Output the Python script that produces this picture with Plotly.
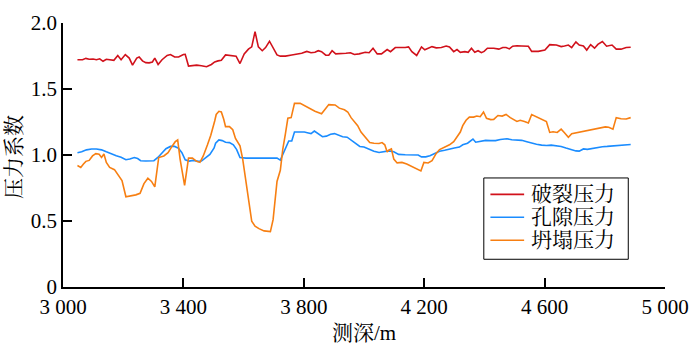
import plotly.graph_objects as go

# Fracture pressure coefficient (破裂压力)
frac_depth = [3048, 3065, 3076, 3087, 3100, 3111, 3122, 3133, 3144, 3155, 3169, 3182, 3193, 3207,
              3220, 3231, 3245, 3253, 3264, 3275, 3286, 3297, 3305, 3316, 3329, 3346, 3357, 3371,
              3384, 3400, 3406, 3417, 3428, 3444, 3460, 3477, 3493, 3504, 3515, 3526, 3540, 3558,
              3575, 3588, 3602, 3616, 3627, 3638, 3649, 3662, 3673, 3686, 3697, 3711, 3722, 3739,
              3760, 3777, 3793, 3810, 3824, 3837, 3848, 3859, 3873, 3883, 3894, 3906, 3924, 3940,
              3955, 3968, 3984, 3990, 4004, 4017, 4030, 4044, 4058, 4077, 4088, 4104, 4120, 4137,
              4148, 4159, 4175, 4191, 4202, 4213, 4226, 4240, 4257, 4273, 4284, 4298, 4309, 4320,
              4335, 4346, 4357, 4368, 4379, 4390, 4399, 4410, 4431, 4448, 4461, 4472, 4483, 4494,
              4508, 4524, 4546, 4557, 4579, 4601, 4617, 4639, 4655, 4666, 4679, 4690, 4704, 4715,
              4729, 4740, 4753, 4766, 4777, 4792, 4806, 4824, 4838, 4854, 4871, 4886]
frac_coef = [1.722, 1.722, 1.732, 1.725, 1.727, 1.722, 1.729, 1.710, 1.725, 1.720, 1.717, 1.754,
             1.722, 1.761, 1.734, 1.681, 1.734, 1.742, 1.713, 1.700, 1.698, 1.705, 1.734, 1.686,
             1.722, 1.754, 1.761, 1.742, 1.742, 1.761, 1.763, 1.674, 1.679, 1.681, 1.676, 1.669,
             1.686, 1.705, 1.713, 1.717, 1.758, 1.754, 1.749, 1.693, 1.766, 1.802, 1.819, 1.935,
             1.819, 1.790, 1.814, 1.862, 1.814, 1.758, 1.749, 1.749, 1.758, 1.766, 1.771, 1.785,
             1.775, 1.778, 1.790, 1.783, 1.756, 1.756, 1.790, 1.766, 1.766, 1.771, 1.775, 1.761,
             1.766, 1.771, 1.778, 1.775, 1.809, 1.766, 1.766, 1.799, 1.783, 1.814, 1.812, 1.814,
             1.819, 1.783, 1.754, 1.819, 1.797, 1.807, 1.821, 1.812, 1.814, 1.826, 1.819, 1.783,
             1.799, 1.778, 1.783, 1.778, 1.809, 1.778, 1.790, 1.775, 1.785, 1.809, 1.809, 1.802,
             1.814, 1.814, 1.804, 1.824, 1.828, 1.826, 1.824, 1.785, 1.785, 1.795, 1.836, 1.833,
             1.821, 1.826, 1.833, 1.814, 1.857, 1.833, 1.826, 1.795, 1.836, 1.809, 1.838, 1.860,
             1.824, 1.833, 1.802, 1.802, 1.814, 1.816]

# Pore pressure coefficient (孔隙压力)
pore_depth = [3048, 3062, 3078, 3095, 3111, 3128, 3144, 3160, 3177, 3193, 3209, 3222, 3237, 3248,
              3258, 3275, 3291, 3302, 3316, 3329, 3342, 3357, 3371, 3384, 3395, 3406, 3419, 3433,
              3449, 3460, 3473, 3488, 3502, 3507, 3518, 3529, 3540, 3553, 3566, 3577, 3588, 3608,
              3662, 3711, 3722, 3730, 3741, 3750, 3760, 3769, 3784, 3802, 3815, 3824, 3835, 3848,
              3862, 3875, 3889, 3902, 3915, 3929, 3944, 3957, 3973, 3986, 4000, 4017, 4033, 4050,
              4066, 4082, 4099, 4115, 4137, 4159, 4180, 4191, 4205, 4219, 4235, 4251, 4268, 4284,
              4300, 4317, 4328, 4344, 4355, 4362, 4371, 4386, 4404, 4421, 4437, 4453, 4464, 4475,
              4491, 4508, 4524, 4541, 4557, 4573, 4590, 4606, 4622, 4639, 4655, 4671, 4688, 4704,
              4715, 4729, 4742, 4759, 4775, 4792, 4808, 4824, 4841, 4857, 4873, 4886]
pore_coef = [1.017, 1.024, 1.039, 1.046, 1.046, 1.039, 1.024, 1.007, 0.995, 0.983, 0.964, 0.969,
             0.981, 0.973, 0.957, 0.954, 0.954, 0.957, 0.983, 1.017, 1.048, 1.065, 1.065, 1.051,
             1.017, 0.964, 0.954, 0.959, 0.952, 0.954, 0.976, 1.005, 1.053, 1.089, 1.114, 1.109,
             1.097, 1.094, 1.077, 1.041, 0.981, 0.976, 0.976, 0.976, 0.961, 1.005, 1.065, 1.106,
             1.106, 1.174, 1.174, 1.174, 1.167, 1.162, 1.181, 1.162, 1.138, 1.143, 1.157, 1.162,
             1.150, 1.138, 1.135, 1.114, 1.082, 1.065, 1.060, 1.041, 1.029, 1.019, 1.024, 1.031,
             1.024, 1.005, 1.002, 1.002, 1.000, 0.986, 0.986, 0.995, 1.012, 1.029, 1.036, 1.046,
             1.053, 1.060, 1.077, 1.089, 1.109, 1.121, 1.097, 1.106, 1.111, 1.109, 1.109, 1.118,
             1.123, 1.123, 1.116, 1.114, 1.111, 1.101, 1.089, 1.082, 1.075, 1.072, 1.075, 1.072,
             1.065, 1.053, 1.041, 1.031, 1.029, 1.046, 1.043, 1.051, 1.058, 1.063, 1.065, 1.068,
             1.068, 1.070, 1.077, 1.080]

# Collapse pressure coefficient (坍塌压力)
coll_depth = [3048, 3059, 3068, 3076, 3087, 3098, 3109, 3120, 3128, 3136, 3144, 3155, 3171, 3182,
              3196, 3209, 3226, 3242, 3256, 3269, 3282, 3294, 3305, 3318, 3335, 3349, 3362, 3373,
              3381, 3389, 3404, 3417, 3430, 3444, 3455, 3466, 3480, 3491, 3504, 3509, 3518, 3526,
              3534, 3540, 3553, 3564, 3573, 3580, 3588, 3597, 3608, 3619, 3627, 3638, 3651, 3668,
              3689, 3698, 3706, 3711, 3722, 3730, 3739, 3747, 3758, 3769, 3788, 3802, 3820, 3837,
              3859, 3872, 3883, 3904, 3918, 3935, 3946, 3957, 3968, 3979, 3990, 4004, 4011, 4019,
              4033, 4050, 4060, 4069, 4077, 4082, 4091, 4099, 4110, 4126, 4142, 4159, 4175, 4189,
              4199, 4213, 4226, 4240, 4251, 4268, 4284, 4298, 4309, 4320, 4328, 4339, 4350, 4364,
              4375, 4386, 4397, 4407, 4421, 4431, 4445, 4459, 4472, 4486, 4508, 4519, 4533, 4546,
              4557, 4573, 4590, 4606, 4617, 4628, 4642, 4655, 4666, 4679, 4690, 4710, 4731, 4753,
              4775, 4802, 4813, 4827, 4838, 4854, 4871, 4886]
coll_coef = [0.920, 0.906, 0.932, 0.952, 0.959, 0.993, 1.010, 1.005, 0.981, 1.007, 0.944, 0.906,
             0.889, 0.855, 0.807, 0.684, 0.691, 0.698, 0.710, 0.783, 0.824, 0.800, 0.758, 0.981,
             0.993, 1.017, 1.065, 1.101, 1.114, 0.969, 0.770, 0.976, 0.976, 0.952, 0.944, 0.993,
             1.077, 1.150, 1.258, 1.307, 1.331, 1.326, 1.271, 1.215, 1.215, 1.191, 1.126, 1.094,
             1.070, 0.969, 0.800, 0.606, 0.498, 0.461, 0.442, 0.425, 0.420, 0.510, 0.727, 0.800,
             0.884, 1.041, 1.162, 1.278, 1.283, 1.391, 1.391, 1.374, 1.350, 1.331, 1.312, 1.355,
             1.382, 1.379, 1.355, 1.343, 1.326, 1.283, 1.254, 1.222, 1.174, 1.138, 1.118, 1.094,
             1.089, 1.087, 1.094, 1.077, 1.022, 1.036, 1.046, 0.969, 0.940, 0.944, 0.932, 0.915,
             0.896, 0.879, 0.944, 0.940, 0.957, 1.012, 1.041, 1.060, 1.077, 1.101, 1.133, 1.174,
             1.222, 1.263, 1.287, 1.287, 1.295, 1.290, 1.326, 1.278, 1.268, 1.270, 1.299, 1.295,
             1.307, 1.283, 1.254, 1.263, 1.254, 1.242, 1.307, 1.290, 1.270, 1.254, 1.171, 1.176,
             1.171, 1.196, 1.169, 1.135, 1.162, 1.171, 1.184, 1.193, 1.203, 1.213, 1.210, 1.196,
             1.283, 1.275, 1.273, 1.283]

series_names = ["破裂压力", "孔隙压力", "坍塌压力"]
series_colors = ["#D1111B", "#1A8CFF", "#F77F12"]

x_ticks = [3000, 3400, 3800, 4200, 4600, 5000]
x_tick_text = ["3 000", "3 400", "3 800", "4 200", "4 600", "5 000"]
y_ticks = [0, 0.5, 1.0, 1.5, 2.0]
y_tick_text = ["0", "0.5", "1.0", "1.5", "2.0"]

FONT = "Liberation Serif, 'Noto Serif CJK SC', 'Noto Sans CJK SC', serif"
TEXT = dict(family=FONT, size=21, color="black")

fig = go.Figure()
for name, color, xs, ys in zip(series_names, series_colors,
                               [frac_depth, pore_depth, coll_depth],
                               [frac_coef, pore_coef, coll_coef]):
    fig.add_trace(go.Scatter(x=xs, y=ys, mode="lines", name=name, showlegend=False,
                             line=dict(color=color, width=1.6)))

axis_common = dict(showgrid=False, zeroline=False, showline=True, linecolor="black",
                   linewidth=1.5, ticks="inside", ticklen=9, tickwidth=1.5, tickcolor="black",
                   tickfont=TEXT, mirror=False, ticklabeloverflow="allow")

# Boxed legend in the lower right of the plotting area
shapes = [dict(type="rect", xref="paper", yref="paper", x0=0.699, x1=0.939, y0=0.105, y1=0.413,
               line=dict(color="black", width=1), fillcolor="white", layer="above")]
annotations = []
for i, (name, color) in enumerate(zip(series_names, series_colors)):
    ry = 0.351 - i * 0.087
    shapes.append(dict(type="line", xref="paper", yref="paper", x0=0.710, x1=0.766,
                       y0=ry, y1=ry, line=dict(color=color, width=1.6), layer="above"))
    annotations.append(dict(text=name, xref="paper", yref="paper", x=0.774, y=ry,
                            xanchor="left", yanchor="middle", showarrow=False, font=TEXT))

annotations += [
    dict(text="压力系数", xref="paper", yref="paper", x=-0.081, y=0.493,
         xanchor="center", yanchor="middle", textangle=-90, showarrow=False, font=TEXT),
    dict(text="测深/m", xref="paper", yref="paper", x=0.5, y=-0.174,
         xanchor="center", yanchor="middle", showarrow=False, font=TEXT),
]

fig.update_layout(
    width=700, height=349,
    margin=dict(l=63, r=26, t=11, b=62),
    paper_bgcolor="white", plot_bgcolor="white",
    font=TEXT,
    showlegend=False,
    xaxis=dict(range=[3000, 5000], tickvals=x_ticks, ticktext=x_tick_text, **axis_common),
    yaxis=dict(range=[0, 2.0], tickvals=y_ticks, ticktext=y_tick_text, **axis_common),
    shapes=shapes,
    annotations=annotations,
)

fig.write_html("out.html")
